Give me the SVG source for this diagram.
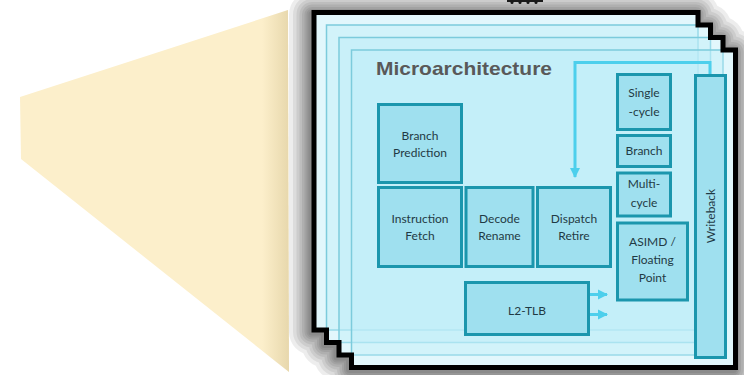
<svg xmlns="http://www.w3.org/2000/svg" width="744" height="375" viewBox="0 0 744 375">
<defs>
  <linearGradient id="edge" x1="0" y1="0" x2="1" y2="0">
    <stop offset="0" stop-color="#8a6d20" stop-opacity="0"/>
    <stop offset="1" stop-color="#8a6d20" stop-opacity="0.18"/>
  </linearGradient>
  <polygon id="union" points="314,12.5 698,12.5 698,25 710.5,25 710.5,37.5 723,37.5 723,50 735.5,50 735.5,367.5 351.5,367.5 351.5,355 339,355 339,342.5 326.5,342.5 326.5,330 314,330"/>
  <marker id="ah" viewBox="0 0 10 10" refX="9" refY="5" markerWidth="3.4" markerHeight="3.4" orient="auto" markerUnits="strokeWidth">
    <path d="M0,0 L10,5 L0,10 z" fill="#4dcfec"/>
  </marker>
  <style>
    .card{fill:#bfeef8;fill-opacity:0.45;stroke:#7ccbdc;stroke-width:1.5}
    .box{fill:#9fe0ef;stroke:#1b96ad;stroke-width:3}
    .lbl{font-family:Lato,"Liberation Sans",sans-serif;font-size:12px;fill:#1f3a44;text-anchor:middle}
    .conn{fill:none;stroke:#4dcfec;stroke-width:3}
    .sh{fill:#000;stroke:#000;stroke-linejoin:round;fill-opacity:0.07;stroke-opacity:0.07}
  </style>
</defs>
<rect width="744" height="375" fill="#ffffff"/>
<polygon id="beam" points="20,97 288,10 289,372 21,159" fill="#fcefcb"/>
<polygon points="262,18.5 288,10 289,372 262,351" fill="url(#edge)"/>
<path d="M507,0.5 H543" stroke="#222" stroke-width="3"/>
<g fill="#222"><circle cx="512" cy="2.5" r="1.5"/><circle cx="520" cy="2.5" r="1.5"/><circle cx="528" cy="2.5" r="1.5"/><circle cx="536" cy="2.5" r="1.5"/></g>
<g id="shadow" transform="translate(-2,2)">
  <use href="#union" class="sh" stroke-width="46"/>
  <use href="#union" class="sh" stroke-width="38"/>
  <use href="#union" class="sh" stroke-width="31"/>
  <use href="#union" class="sh" stroke-width="25"/>
  <use href="#union" class="sh" stroke-width="20"/>
  <use href="#union" class="sh" stroke-width="15"/>
  <use href="#union" class="sh" stroke-width="11"/>
  <use href="#union" class="sh" stroke-width="7"/>
</g>
<g id="stack">
  <use href="#union" fill="#ffffff"/>
  <rect class="card" x="314" y="12.5" width="384" height="317.5"/>
  <rect class="card" x="326.5" y="25" width="384" height="317.5"/>
  <rect class="card" x="339" y="37.5" width="384" height="317.5"/>
  <rect class="card" x="351.5" y="50" width="384" height="317.5"/>
  <use href="#union" fill="none" stroke="#000" stroke-width="5"/>
</g>
<text id="title" x="376" y="75" font-family="'Liberation Sans',Arial,sans-serif" font-weight="bold" font-size="19" fill="#595959" textLength="176" lengthAdjust="spacingAndGlyphs">Microarchitecture</text>
<g id="connectors">
  <path class="conn" d="M710,75 V62.5 H575 V177" marker-end="url(#ah)"/>
  <path class="conn" d="M590,294.5 H607" marker-end="url(#ah)"/>
  <path class="conn" d="M590,314.5 H607" marker-end="url(#ah)"/>
</g>
<g id="branch-prediction"><rect class="box" x="378.5" y="104.5" width="83" height="78"/><text class="lbl" x="420" y="140">Branch</text><text class="lbl" x="420" y="157">Prediction</text></g>
<g id="instruction-fetch"><rect class="box" x="378.5" y="187.5" width="83" height="79"/><text class="lbl" x="420" y="223">Instruction</text><text class="lbl" x="420" y="240">Fetch</text></g>
<g id="decode-rename"><rect class="box" x="466" y="187.5" width="67" height="79"/><text class="lbl" x="499.5" y="223">Decode</text><text class="lbl" x="499.5" y="240">Rename</text></g>
<g id="dispatch-retire"><rect class="box" x="537.5" y="187.5" width="73" height="79"/><text class="lbl" x="574" y="223">Dispatch</text><text class="lbl" x="574" y="240">Retire</text></g>
<g id="single-cycle"><rect class="box" x="617.5" y="74.5" width="53" height="55"/><text class="lbl" x="644" y="97">Single</text><text class="lbl" x="644" y="116">-cycle</text></g>
<g id="branch"><rect class="box" x="617.5" y="135.5" width="53" height="31"/><text class="lbl" x="644" y="155">Branch</text></g>
<g id="multi-cycle"><rect class="box" x="617.5" y="173" width="53" height="43"/><text class="lbl" x="644" y="188">Multi-</text><text class="lbl" x="644" y="207">cycle</text></g>
<g id="asimd-fp"><rect class="box" x="617.5" y="223" width="70" height="77"/><text class="lbl" x="652.5" y="246">ASIMD /</text><text class="lbl" x="652.5" y="264">Floating</text><text class="lbl" x="652.5" y="282">Point</text></g>
<g id="writeback"><rect class="box" x="695.5" y="75.5" width="30" height="282"/><text class="lbl" transform="translate(714.5,216) rotate(-90)" x="0" y="0">Writeback</text></g>
<g id="l2-tlb"><rect class="box" x="465.5" y="282.5" width="123" height="52"/><text class="lbl" x="527" y="315">L2-TLB</text></g>
</svg>
